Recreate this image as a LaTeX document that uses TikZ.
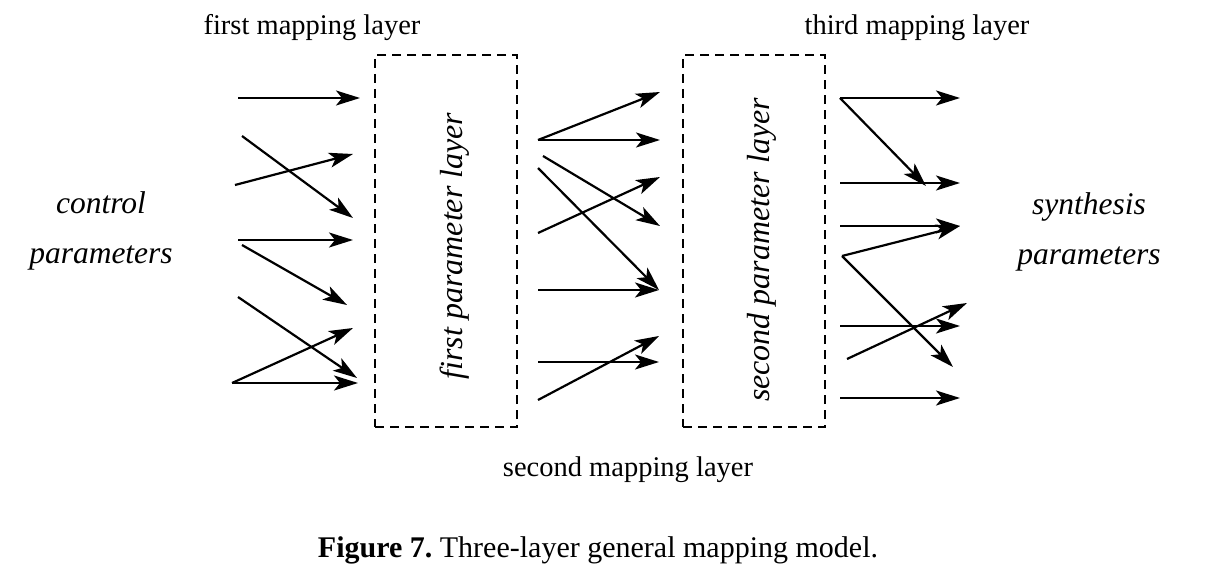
\documentclass[tikz,border=0pt]{standalone}
\usepackage{fontspec}
\setmainfont{Liberation Serif}
\usetikzlibrary{arrows.meta}

\begin{document}
\frenchspacing
\begin{tikzpicture}[x=1pt, y=-1pt,
      map/.style={-{Stealth[length=24pt, width=15pt, inset=6pt]}, line width=2.2pt},
      layerbox/.style={rectangle, draw, dash pattern=on 9pt off 6pt, line width=1.8pt,
                       minimum width=142pt, minimum height=372pt},
      layertext/.style={rotate=90, font=\fontsize{32}{38}\selectfont\itshape},
      label/.style={font=\fontsize{28.5}{34}\selectfont},
      side/.style={font=\fontsize{31.5}{50}\selectfont\itshape, align=center}]
      \useasboundingbox (0,0) rectangle (1224,586);

      % parameter layers
      \node[layerbox] (layerA) at (446,241) {};
      \node[layerbox] (layerB) at (754,241) {};
      \node[layertext] (layerAtext) at (455,246) {first parameter layer};
      \node[layertext] (layerBtext) at (762,250) {second parameter layer};

      % texts
      \node[label] (mapA) at (312,28) {first mapping layer};
      \node[label] (mapB) at (628,470) {second mapping layer};
      \node[label] (mapC) at (917,28) {third mapping layer};
      \node[side] (ctrl) at (101,231) {control\\parameters};
      \node[side] (synth) at (1089,232) {synthesis\\parameters};
      \node[font=\fontsize{30}{36}\selectfont] (caption) at (598,550) {\textbf{Figure 7.} Three-layer general mapping model.};

      % first mapping layer
      \coordinate (a1) at (238,98);   \coordinate (a1e) at (360,98);
      \coordinate (a2) at (242,136);  \coordinate (a2e) at (353,218);
      \coordinate (a3) at (235,185);  \coordinate (a3e) at (353,154);
      \coordinate (a4) at (238,240);  \coordinate (a4e) at (353,240);
      \coordinate (a5) at (242,245);  \coordinate (a5e) at (347,305);
      \coordinate (a6) at (238,297);  \coordinate (a6e) at (357,378);
      \coordinate (a7) at (232,383);  \coordinate (a7e) at (353,328);
      \coordinate (a8e) at (358,383);
      \draw[map] (a1) -- (a1e);
      \draw[map] (a2) -- (a2e);
      \draw[map] (a3) -- (a3e);
      \draw[map] (a4) -- (a4e);
      \draw[map] (a5) -- (a5e);
      \draw[map] (a6) -- (a6e);
      \draw[map] (a7) -- (a7e);
      \draw[map] (a7) -- (a8e);

      % second mapping layer
      \coordinate (b1) at (538,140);  \coordinate (b1e) at (660,92);
      \coordinate (b2e) at (660,140);
      \coordinate (b3) at (543,156);  \coordinate (b3e) at (660,226);
      \coordinate (b4) at (538,168);  \coordinate (b4e) at (659,290);
      \coordinate (b5) at (538,233);  \coordinate (b5e) at (660,177);
      \coordinate (b6) at (538,290);
      \coordinate (b7) at (538,362);  \coordinate (b7e) at (659,362);
      \coordinate (b8) at (538,400);  \coordinate (b8e) at (659,336);
      \draw[map] (b1) -- (b1e);
      \draw[map] (b1) -- (b2e);
      \draw[map] (b3) -- (b3e);
      \draw[map] (b4) -- (b4e);
      \draw[map] (b5) -- (b5e);
      \draw[map] (b6) -- (b4e);
      \draw[map] (b7) -- (b7e);
      \draw[map] (b8) -- (b8e);

      % third mapping layer
      \coordinate (c1) at (840,98);   \coordinate (c1e) at (960,98);
      \coordinate (c2e) at (926,186);
      \coordinate (c3) at (840,183);  \coordinate (c3e) at (960,183);
      \coordinate (c4) at (840,226);  \coordinate (c4e) at (960,226);
      \coordinate (c5) at (842,256);  \coordinate (c6e) at (953,367);
      \coordinate (c7) at (840,326);  \coordinate (c7e) at (960,326);
      \coordinate (c8) at (847,359);  \coordinate (c8e) at (967,303);
      \coordinate (c9) at (840,398);  \coordinate (c9e) at (960,398);
      \draw[map] (c1) -- (c1e);
      \draw[map] (c1) -- (c2e);
      \draw[map] (c3) -- (c3e);
      \draw[map] (c4) -- (c4e);
      \draw[map] (c5) -- (c4e);
      \draw[map] (c5) -- (c6e);
      \draw[map] (c7) -- (c7e);
      \draw[map] (c8) -- (c8e);
      \draw[map] (c9) -- (c9e);
\end{tikzpicture}
\end{document}
